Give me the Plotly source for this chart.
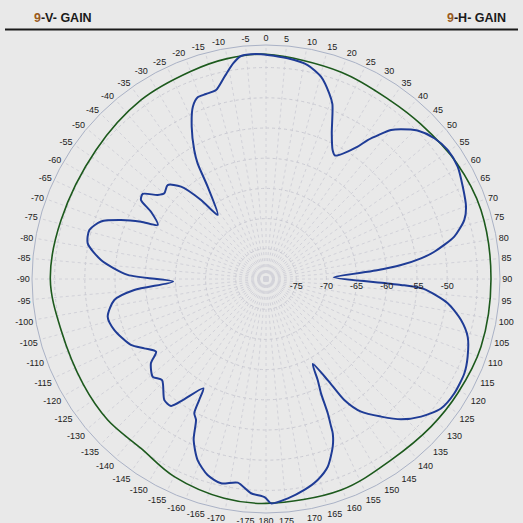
import plotly.graph_objects as go

# ---- data (dB vs azimuth, degrees clockwise from top) ----
v_theta = [-179.7, -176, -172.1, -167.6, -163.4, -159.3, -155.8, -153.6, -151.9, -151.1, -150.2,
           -145.6, -143.2, -140, -134.2, -130.8, -126.2, -123.5, -119.7, -116, -108.6, -103.4,
           -97.9, -94.8, -91.6, -88.3, -83.4, -78.7, -74.5, -70.8, -67.9, -65.4, -63.5, -59.7,
           -57.7, -55.4, -52.2, -49.9, -46.3, -42.6, -39.4, -37, -32.3, -30.6, -29.1, -26, -23,
           -20.6, -18, -14.8, -11.6, -8.6, -6.4, -2.5, 0.4, 5.6, 11, 15.2, 18.8, 20.8, 24.3, 27.3,
           29.2, 34.7, 36.2, 40, 42, 45.6, 50.1, 54.6, 59.6, 64.9, 70.1, 73.4, 77.3, 80.8, 82.4,
           84.1, 85.6, 88.6, 92.0, 92.5, 93.6, 97.6, 101.9, 106, 111.1, 115.4, 121.3, 126.5,
           131.6, 136.1, 140.1, 144.4, 147.1, 148.6, 151.2, 152.9, 154.3, 155.3, 156.2, 156.6,
           158.3, 161.8, 165.6, 169.7, 174.3, 178.7, 180.3]
v_gain = [-43.86, -44.44, -45.96, -45.36, -46.14, -47.96, -50.78, -53.94, -54.80, -57.12, -59.14,
          -55.73, -53.76, -53.82, -55.99, -55.23, -56.39, -58.18, -56.82, -55.12, -53.51, -53.06,
          -54.65, -58.11, -64.60, -57.09, -52.50, -49.90, -49.65, -51.08, -54.09, -57.24, -59.97, -57.95,
          -55.51, -55.20, -57.30, -57.98, -57.48, -59.22, -63.06, -66.72, -61.92, -57.75, -55.56, -51.94, -49.01,
          -47.86, -47.80, -47.63, -45.81, -43.87, -42.85, -42.72, -42.91, -43.29, -43.91, -45.28, -47.52, -49.04, -53.54, -55.96,
          -56.57, -53.34, -51.49, -47.80, -46.62, -44.88, -43.68, -43.11, -43.21, -44.02, -44.78, -45.74, -48.05, -51.77, -54.11,
          -57.53, -61.79, -68.79, -60.13, -57.65, -53.84, -49.65, -47.00, -45.26, -44.22, -43.64, -43.53, -43.97,
          -45.68, -47.76, -50.30, -52.98, -56.14, -60.40, -63.94, -61.21, -58.99, -55.53, -53.29, -52.17,
          -50.12, -47.28, -45.65, -44.50, -43.51, -42.85, -43.86]

h_theta = [-180, -169.2, -155.1, -143.6, -131.7, -120, -104, -90, -74, -52.8, -34.9, -20, -10, 0,
           20, 35, 45, 58.6, 72.2, 90, 107.5, 120.8, 131.8, 145.4, 160.4, 180]
h_gain = [-42.85, -43.03, -43.92, -45.15, -44.90, -45.07, -45.03, -44.29, -44.69, -44.67, -43.86,
          -43.44, -42.95, -42.80, -43.56, -43.99, -43.75, -43.05, -42.62, -42.75, -42.68, -43.05,
          -43.34, -43.58, -42.93, -42.85]

angle_ticks = list(range(0, 360, 5))
angle_labels = [str(a if a <= 180 else a - 360) for a in angle_ticks]
radial_ticks = [-75, -70, -65, -60, -55, -50, -45]
radial_labels = ["-75", "-70", "-65", "-60", "-55", "-50", ""]

W = H = 523
cx, cy, R = 266, 279, 234

fig = go.Figure()
fig.add_trace(go.Scatterpolar(r=h_gain, theta=h_theta, mode="lines",
                              line=dict(color="#1d5a1d", width=1.6, shape="spline", smoothing=1.0),
                              showlegend=False, hoverinfo="skip"))
fig.add_trace(go.Scatterpolar(r=v_gain, theta=v_theta, mode="lines",
                              line=dict(color="#1f3c96", width=2, shape="spline", smoothing=0.7),
                              showlegend=False, hoverinfo="skip"))

fig.update_layout(
    width=W, height=H,
    margin=dict(l=0, r=0, t=0, b=0),
    paper_bgcolor="#e9e9e9",
    font=dict(family="Arial, Liberation Sans, sans-serif", color="#222222"),
    polar=dict(
        domain=dict(x=[(cx - R) / W, (cx + R) / W], y=[(H - cy - R) / H, (H - cy + R) / H]),
        bgcolor="#e9e9e9",
        angularaxis=dict(rotation=90, direction="clockwise",
                         tickmode="array", tickvals=angle_ticks, ticktext=angle_labels,
                         tickfont=dict(size=9, color="#222222"),
                         ticks="", showline=True, linecolor="#aab2c6", linewidth=1,
                         showgrid=True, gridcolor="#d2d2d9", gridwidth=0.6, griddash="dot"),
        radialaxis=dict(range=[-80, -80 + R / 6.04], angle=0, side="clockwise", tickangle=0,
                        tickmode="array", tickvals=radial_ticks, ticktext=radial_labels,
                        tickfont=dict(size=9, color="#222222"),
                        ticks="", showline=False,
                        showgrid=True, gridcolor="#cbcbd3", gridwidth=0.6, griddash="dot"),
    ),
    shapes=[dict(type="line", xref="paper", yref="paper", x0=5 / W, x1=518 / W,
                 y0=1 - 29.5 / H, y1=1 - 29.5 / H, line=dict(color="#1a1a1a", width=2))],
    annotations=[
        dict(text="<b><span style='color:#9a5a20'>9</span>-V- GAIN</b>", xref="paper", yref="paper",
             x=32 / W, y=1 - 18 / H, xanchor="left", yanchor="middle", showarrow=False,
             font=dict(size=12.5, color="#1a1a1a")),
        dict(text="<b><span style='color:#9a5a20'>9</span>-H- GAIN</b>", xref="paper", yref="paper",
             x=508 / W, y=1 - 18 / H, xanchor="right", yanchor="middle", showarrow=False,
             font=dict(size=12.5, color="#1a1a1a")),
    ],
)

fig.write_html("out.html", config={"displayModeBar": False},
               post_script="document.body.style.margin='0';document.body.style.padding='0';"
                           "document.body.style.overflow='hidden';")
